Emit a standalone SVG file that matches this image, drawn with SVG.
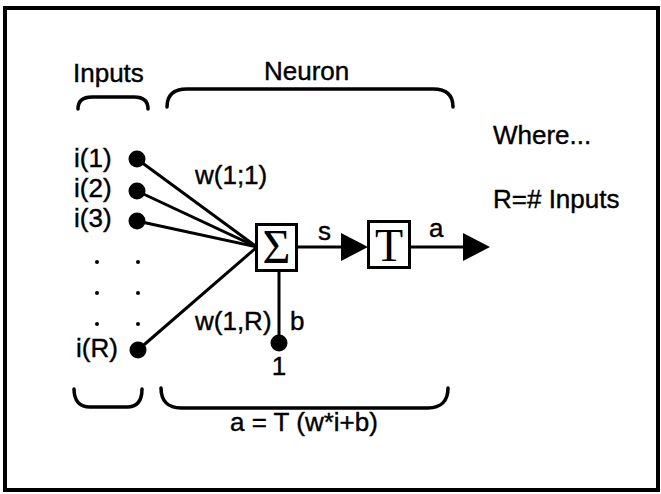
<svg xmlns="http://www.w3.org/2000/svg" width="661" height="494" viewBox="0 0 661 494">
<style>
.t{font-family:"Liberation Sans",Arial,sans-serif;font-size:26px;fill:#000;stroke:#000;stroke-width:0.4}
.ln{stroke:#000;stroke-width:3;fill:none}
.br{stroke:#000;stroke-width:3.5;fill:none;stroke-linecap:round}
.dot{fill:#000}
.box{fill:#fff;stroke:#000;stroke-width:3}
.serif{font-family:"Liberation Serif","Times New Roman",serif;fill:#000}
</style>
<rect x="0" y="0" width="661" height="494" fill="#fff"/>
<rect x="5" y="8" width="653" height="482" fill="none" stroke="#000" stroke-width="4"/>

<g id="labels">
<text class="t" x="73" y="82">Inputs</text>
<text class="t" x="264" y="80">Neuron</text>
<text class="t" x="493" y="144">Where...</text>
<text class="t" x="493" y="208">R=# Inputs</text>
<text class="t" x="230" y="431">a = T (w*i+b)</text>
</g>

<g id="braces">
<path class="br" d="M78,109 C78,101 83,97 92,97 L134,97 C143,97 148,101 148,109"/>
<path class="br" d="M167,107 C167,95 174,89 187,89 L433,89 C446,89 453,95 453,107"/>
<path class="br" d="M74,389 C74,401 80,407 90,407 L127,407 C137,407 142,401 142,389"/>
<path class="br" d="M161,388 C161,401 168,408 181,408 L428,408 C441,408 448,401 448,388"/>
</g>

<g id="connectors">
<line class="ln" x1="137" y1="159" x2="257" y2="247"/>
<line class="ln" x1="137" y1="191" x2="257" y2="247"/>
<line class="ln" x1="137" y1="221" x2="257" y2="247"/>
<line class="ln" x1="138" y1="350" x2="257" y2="247"/>
<line class="ln" x1="279" y1="272" x2="279" y2="343"/>
<line class="ln" x1="297" y1="247" x2="345" y2="247"/>
<polygon class="dot" points="341,233 368,247 341,261"/>
<line class="ln" x1="410" y1="247" x2="466" y2="247"/>
<polygon class="dot" points="463,233 490,247 463,261"/>
<text class="t" x="318" y="240">s</text>
<text class="t" x="429" y="237">a</text>
<text class="t" x="195" y="184">w(1;1)</text>
<text class="t" x="195" y="330">w(1,R)</text>
<text class="t" x="290" y="330">b</text>
</g>

<g id="inputs">
<text class="t" x="74" y="167">i(1)</text>
<circle class="dot" cx="137" cy="159" r="8.5"/>
<text class="t" x="74" y="197">i(2)</text>
<circle class="dot" cx="137" cy="191" r="8.5"/>
<text class="t" x="74" y="227">i(3)</text>
<circle class="dot" cx="137" cy="221" r="8.5"/>
<circle class="dot" cx="97" cy="262" r="2"/>
<circle class="dot" cx="138" cy="262" r="2"/>
<circle class="dot" cx="97" cy="293" r="2"/>
<circle class="dot" cx="138" cy="293" r="2"/>
<circle class="dot" cx="97" cy="324" r="2"/>
<circle class="dot" cx="138" cy="324" r="2"/>
<text class="t" x="76" y="357">i(R)</text>
<circle class="dot" cx="138" cy="350" r="8.5"/>
</g>

<g id="sum">
<rect class="box" x="256.5" y="224.5" width="40" height="46"/>
<text class="serif" x="276.5" y="263" font-size="48" text-anchor="middle">Σ</text>
</g>

<g id="transfer">
<rect class="box" x="368.5" y="221.5" width="41" height="46"/>
<text class="serif" x="389" y="261" font-size="46" text-anchor="middle">T</text>
</g>

<g id="bias">
<circle class="dot" cx="279" cy="343" r="8.5"/>
<text class="t" x="279" y="375" text-anchor="middle">1</text>
</g>
</svg>
